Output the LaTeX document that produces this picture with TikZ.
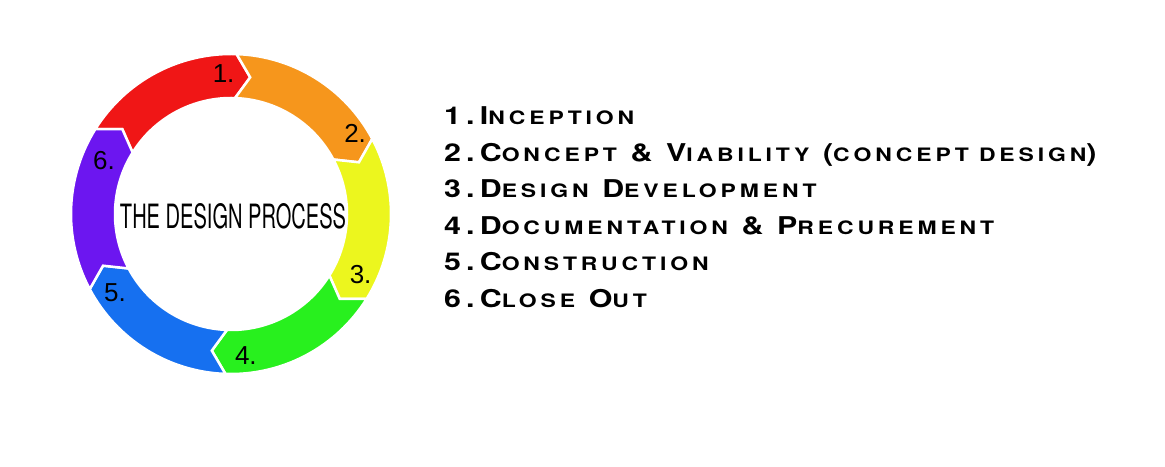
\documentclass[tikz,border=0pt]{standalone}
\usepackage{fontspec}
\setmainfont{TeX Gyre Heros}
\newfontfamily\listfont[LetterSpace=21,FakeStretch=1.24]{TeX Gyre Heros}
\newfontfamily\numfont{Liberation Sans}
\definecolor{cred}{RGB}{240,22,22}
\definecolor{corange}{RGB}{246,150,28}
\definecolor{cyellow}{RGB}{236,246,30}
\definecolor{cgreen}{RGB}{40,240,30}
\definecolor{cblue}{RGB}{22,112,240}
\definecolor{cpurple}{RGB}{108,22,240}
\newcommand\smc[1]{{\fontsize{18.5}{19}\selectfont #1}}
\tikzset{
  item/.style={anchor=base west, inner sep=0pt, font=\listfont\bfseries\fontsize{24.5}{25}\selectfont},
  numlbl/.style={inner sep=0pt, font=\numfont\fontsize{26}{26}\selectfont}
}
\begin{document}
\begin{tikzpicture}[x=1pt,y=1pt]
  \useasboundingbox (0,0) rectangle (1165,466);
  \fill[white] (0,0) rectangle (1165,466);

  % the ring of arrows
  \begin{scope}[shift={(231,252)}]
    \foreach \i/\c in {1/cred,2/corange,3/cyellow,4/cgreen,5/cblue,6/cpurple}{
      \pgfmathsetmacro\s{148-60*(\i-1)}
      \pgfmathsetmacro\e{\s-60}
      \filldraw[fill=\c, draw=white, line width=2.5pt, line join=miter]
        (\s:160pt) arc[start angle=\s, end angle=\e, radius=160pt]
        -- (\e-6:138pt) -- (\e:116pt)
        arc[start angle=\e, end angle=\s, radius=116pt]
        -- (\s-6:138pt) -- cycle;
    }
    \node[numlbl] (n1) at (93:141pt) {1.};
    \node[numlbl] (n2) at (33:148pt) {2.};
    \node[numlbl] (n3) at (-25:143pt) {3.};
    \node[numlbl] (n4) at (-84:142pt) {4.};
    \node[numlbl] (n5) at (-146:140pt) {5.};
    \node[numlbl] (n6) at (157:138pt) {6.};
    \node[inner sep=0pt] (title) at (2,-2) {\resizebox{226pt}{25pt}{THE DESIGN PROCESS}};
  \end{scope}

  % the list
  \node[item] (s1) at (444,341) {1.I\smc{NCEPTION}};
  \node[item] (s2) at (444,304.5) {2.C\smc{ONCEPT} \& V\smc{IABILITY} (\smc{CONCEPT DESIGN})};
  \node[item] (s3) at (444,268) {3.D\smc{ESIGN} D\smc{EVELOPMENT}};
  \node[item] (s4) at (444,231.5) {4.D\smc{OCUMENTATION} \& P\smc{RECUREMENT}};
  \node[item] (s5) at (444,195) {5.C\smc{ONSTRUCTION}};
  \node[item] (s6) at (444,158.5) {6.C\smc{LOSE} O\smc{UT}};
\end{tikzpicture}
\end{document}
